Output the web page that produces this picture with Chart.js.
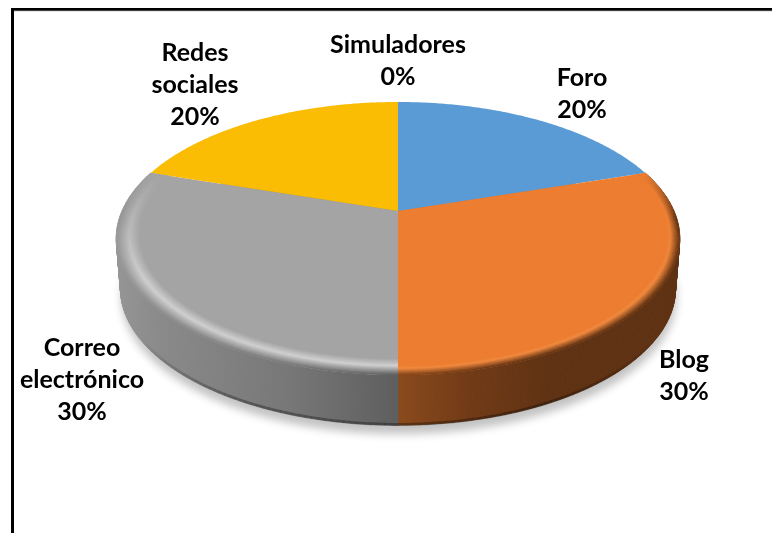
<!DOCTYPE html>
<html>
<head>
<meta charset="utf-8">
<style>
  html, body { margin: 0; padding: 0; background: #fff; overflow: hidden; }
  canvas { display: block; }
</style>
<script src="https://cdn.jsdelivr.net/npm/chart.js@4"></script>
</head>
<body>
<canvas id="pie" width="772" height="533"></canvas>
<script>
const categories = ['Foro', 'Blog', 'Correo electrónico', 'Redes sociales', 'Simuladores'];
const shares = [20, 30, 30, 20, 0];
const sliceColors = ['#5B9BD5', '#EC7D31', '#A4A4A4', '#FBBC04', '#4472C4'];
const labelLines = [['Foro', '20%'], ['Blog', '30%'], ['Correo', 'electrónico', '30%'], ['Redes', 'sociales', '20%'], ['Simuladores', '0%']];
// where each label sits: centre x, first baseline
const labelSpots = [[582, 86], [684, 368], [82, 356], [195, 61], [398, 53]];

// tilted disc, worked out from the rim of the reference
const view = { cx: 398, cy: 211, a: 276, b: 131, k: 0.2015, depth: 50, floorScale: 0.985 };

function project(angle, r, lifted) {
    const u = r * Math.cos(angle), v = r * Math.sin(angle);
    const w = 1 - view.k * v;
    const xs = lifted ? 1 : view.floorScale;
    return [view.cx + view.a * xs * u / w, view.cy + view.b * v / w + (lifted ? 0 : view.depth)];
}

function arcPoints(start, end, r, lifted) {
    const n = Math.max(2, Math.ceil((end - start) / 0.01));
    const pts = [];
    for (let i = 0; i <= n; i++) pts.push(project(start + (end - start) * i / n, r, lifted));
    return pts;
}

function tracePoly(ctx, pts) {
    ctx.beginPath();
    pts.forEach((p, i) => i ? ctx.lineTo(p[0], p[1]) : ctx.moveTo(p[0], p[1]));
    ctx.closePath();
}

function hexRgb(h) {
    return [1, 3, 5].map(i => parseInt(h.substr(i, 2), 16));
}
function mix(c1, c2, t) {
    return c1.map((v, i) => v + (c2[i] - v) * t);
}
function css(c) {
    return `rgb(${c.map(Math.round).join(',')})`;
}
function clamp01(t) {
    return Math.min(1, Math.max(0, t));
}

// only the two front slices have a visible bevel and wall
const walls = {
    1: { stops: [[398, '#8a4a1c'], [470, '#713a16'], [550, '#5f3213'], [680, '#5e3112']], hi: '#f08a40', r0: 0.955, peak: 0.3 },
    2: { stops: [[116, '#969696'], [160, '#8a8a8a'], [290, '#777777'], [398, '#5e5e5e']], hi: '#d0d0d0', r0: 0.92, peak: 0.45 }
};

function wallColorAt(style, x) {
    const s = style.stops;
    if (x <= s[0][0]) return hexRgb(s[0][1]);
    for (let i = 1; i < s.length; i++) {
        if (x <= s[i][0]) return mix(hexRgb(s[i - 1][1]), hexRgb(s[i][1]), (x - s[i - 1][0]) / (s[i][0] - s[i - 1][0]));
    }
    return hexRgb(s[s.length - 1][1]);
}

function drawWall(ctx, arc, style) {
    const top = arcPoints(arc.startAngle, arc.endAngle, 1, true);
    const bottom = arcPoints(arc.startAngle, arc.endAngle, 1, false);
    const g = ctx.createLinearGradient(0, 0, 772, 0);
    style.stops.forEach(s => g.addColorStop(s[0] / 772, s[1]));
    ctx.fillStyle = g;
    ctx.strokeStyle = g;
    ctx.lineWidth = 0.8;
    for (let i = 0; i < top.length - 1; i++) {
        tracePoly(ctx, [top[i], top[i + 1], bottom[i + 1], bottom[i]]);
        ctx.fill();
        ctx.stroke();
    }
    // dark line along the floor, only towards the front
    const da = 0.02;
    ctx.lineWidth = 3;
    for (let a = arc.startAngle; a < arc.endAngle; a += da) {
        const alpha = 0.3 * clamp01((Math.sin(a) - 0.55) / 0.35);
        if (alpha <= 0) continue;
        const p = project(a, 0.997, false), q = project(a + da * 1.05, 0.997, false);
        ctx.beginPath();
        ctx.moveTo(p[0], p[1]);
        ctx.lineTo(q[0], q[1]);
        ctx.strokeStyle = `rgba(0,0,0,${alpha})`;
        ctx.stroke();
    }
}

function drawBevel(ctx, arc, base, style) {
    const b = hexRgb(base), hi = hexRgb(style.hi);
    const da = 0.025;
    ctx.save();
    tracePoly(ctx, [[view.cx, view.cy]].concat(arcPoints(arc.startAngle, arc.endAngle, 1, true)));
    ctx.clip();
    ctx.lineWidth = 1.3;
    for (let r = style.r0; r <= 1.0005; r += 0.003) {
        const t = (r - style.r0) / (1 - style.r0);
        for (let a = arc.startAngle; a < arc.endAngle; a += da) {
            const v = Math.sin(a + da / 2);
            const p = project(a, r, true), q = project(a + da * 1.1, r, true);
            const glow = mix(b, hi, clamp01((v + 0.3) / 0.8));
            const dark = mix(b, wallColorAt(style, p[0]), clamp01((v + 0.3) / 0.35));
            const c = t < style.peak ? mix(b, glow, t / style.peak) : mix(glow, dark, (t - style.peak) / (1 - style.peak));
            ctx.beginPath();
            ctx.moveTo(p[0], p[1]);
            ctx.lineTo(q[0], q[1]);
            ctx.strokeStyle = css(c);
            ctx.stroke();
        }
    }
    ctx.restore();
}

const tiltedPie = {
    id: 'tiltedPie',
    beforeDraw(chart) {
        const ctx = chart.ctx;
        ctx.save();
        ctx.fillStyle = '#fff';
        ctx.fillRect(0, 0, chart.width, chart.height);
        // chart frame, only top and left fall inside the crop
        ctx.fillStyle = '#c8c8c8';
        ctx.fillRect(14, 10.5, 758, 1);
        ctx.fillStyle = '#000';
        ctx.fillRect(11, 8, 761, 2.7);
        ctx.fillRect(11, 8, 3, 525);
        ctx.restore();
    },
    beforeDatasetDraw(chart) {
        const ctx = chart.ctx;
        const arcs = chart.getDatasetMeta(0).data;
        // soft shadow under the whole disc
        ctx.save();
        ctx.shadowColor = 'rgba(0,0,0,0.24)';
        ctx.shadowBlur = 8;
        ctx.shadowOffsetX = 1;
        ctx.shadowOffsetY = 9;
        tracePoly(ctx, arcPoints(0, Math.PI * 2, 1, false));
        ctx.fillStyle = '#888';
        ctx.fill();
        ctx.restore();

        arcs.forEach((arc, i) => { if (walls[i]) drawWall(ctx, arc, walls[i]); });
        arcs.forEach((arc, i) => {
            if (arc.endAngle - arc.startAngle <= 0) return;
            tracePoly(ctx, [[view.cx, view.cy]].concat(arcPoints(arc.startAngle, arc.endAngle, 1, true)));
            ctx.fillStyle = sliceColors[i];
            ctx.fill();
        });
        arcs.forEach((arc, i) => { if (walls[i]) drawBevel(ctx, arc, sliceColors[i], walls[i]); });
        return false;
    },
    afterDraw(chart) {
        const ctx = chart.ctx;
        ctx.save();
        ctx.font = 'bold 25px Lato';
        ctx.fillStyle = '#000';
        ctx.textAlign = 'center';
        labelLines.forEach((lines, i) => {
            lines.forEach((line, j) => ctx.fillText(line, labelSpots[i][0], labelSpots[i][1] + j * 32));
        });
        ctx.restore();
    }
};

new Chart(document.getElementById('pie'), {
    type: 'pie',
    data: {
        labels: categories,
        datasets: [{ data: shares, backgroundColor: sliceColors, borderWidth: 0 }]
    },
    options: {
        responsive: false,
        animation: false,
        plugins: { legend: { display: false }, tooltip: { enabled: false } }
    },
    plugins: [tiltedPie]
});
</script>
</body>
</html>
